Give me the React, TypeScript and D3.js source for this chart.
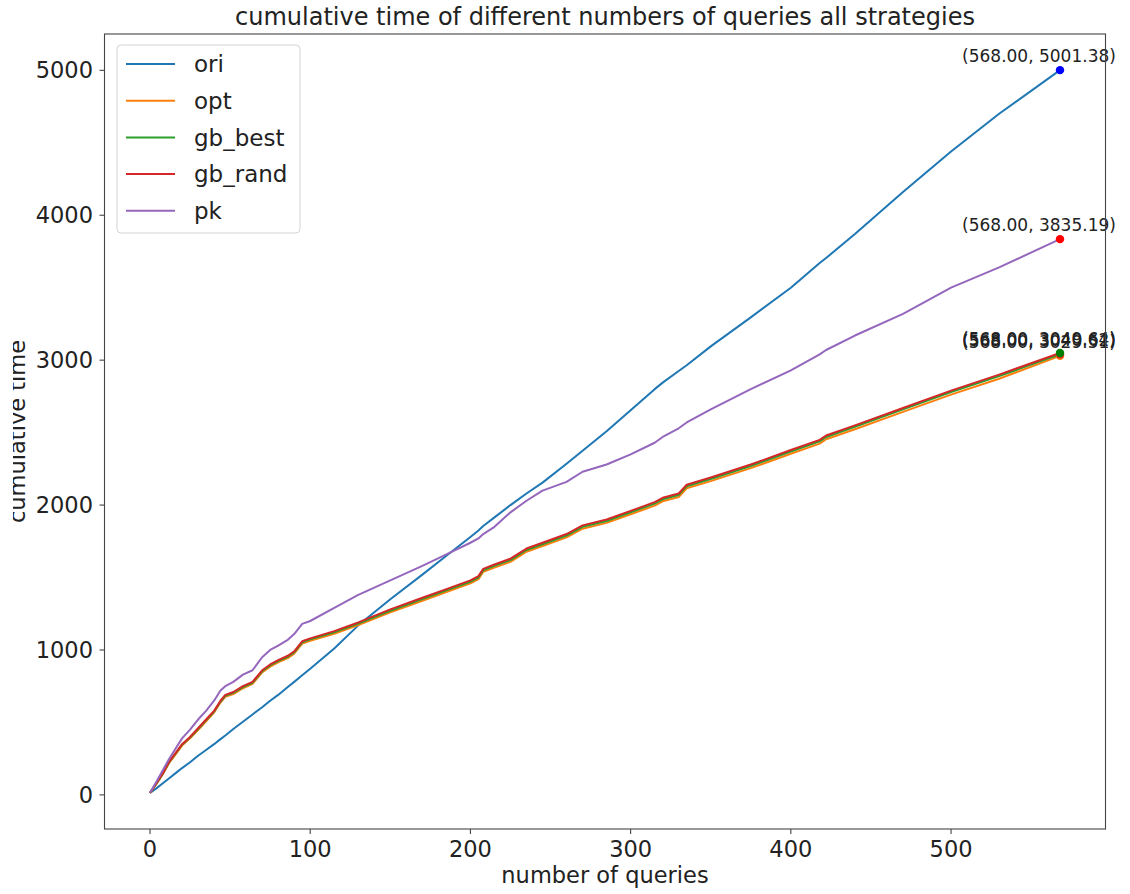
import * as d3 from 'd3';

// sampled query counts (x) shared by every series
const queries = [0, 4, 8, 12, 16, 20, 25, 30, 35, 40, 44, 47, 52, 58, 64, 70, 75, 80, 86, 90, 95, 100, 115, 130, 150, 170, 185, 200, 205, 208, 215, 225, 235, 245, 260, 270, 285, 300, 315, 320, 330, 335, 350, 375, 400, 418, 422, 440, 470, 500, 530, 568];

const ori = [14, 45, 80, 115, 150, 185, 225, 270, 310, 350, 385, 410, 455, 505, 555, 605, 650, 690, 745, 780, 825, 870, 1010, 1170, 1350, 1520, 1650, 1780, 1825, 1855, 1915, 2000, 2080, 2155, 2285, 2375, 2510, 2655, 2800, 2845, 2925, 2965, 3095, 3295, 3500, 3670, 3705, 3870, 4160, 4440, 4700, 5001.38];
const gbRand = [14, 80, 150, 230, 290, 350, 400, 460, 520, 580, 650, 690, 710, 750, 780, 860, 900, 930, 960, 990, 1060, 1080, 1130, 1190, 1280, 1360, 1420, 1480, 1510, 1560, 1590, 1630, 1700, 1740, 1800, 1860, 1900, 1960, 2020, 2050, 2080, 2140, 2190, 2280, 2380, 2450, 2480, 2550, 2670, 2790, 2900, 3049.64];
const gbBest = [14, 78, 147, 226, 286, 346, 396, 455, 515, 575, 644, 684, 704, 744, 774, 853, 893, 923, 953, 983, 1053, 1073, 1122, 1182, 1271, 1351, 1411, 1471, 1500, 1550, 1580, 1620, 1690, 1730, 1790, 1850, 1890, 1950, 2010, 2040, 2070, 2130, 2180, 2270, 2370, 2440, 2470, 2540, 2660, 2780, 2890, 3040.62];
const opt = [14, 75, 143, 221, 280, 340, 390, 448, 508, 568, 637, 677, 696, 736, 766, 845, 885, 915, 944, 974, 1044, 1064, 1112, 1172, 1260, 1340, 1400, 1460, 1489, 1539, 1568, 1608, 1678, 1718, 1777, 1837, 1877, 1937, 1996, 2026, 2056, 2116, 2165, 2255, 2354, 2424, 2454, 2523, 2643, 2762, 2872, 3029.51];
const pk = [14, 90, 170, 250, 320, 390, 450, 520, 580, 650, 720, 750, 780, 830, 860, 950, 1000, 1030, 1070, 1110, 1180, 1200, 1290, 1380, 1480, 1580, 1660, 1740, 1770, 1800, 1850, 1950, 2030, 2100, 2160, 2230, 2280, 2350, 2430, 2470, 2530, 2570, 2660, 2800, 2930, 3040, 3070, 3170, 3320, 3500, 3640, 3835.19];

const seriesNames = ['ori', 'opt', 'gb_best', 'gb_rand', 'pk'];
const seriesValues = [ori, opt, gbBest, gbRand, pk];
const seriesColors = ['#1f77b4', '#ff7f0e', '#2ca02c', '#d62728', '#9467bd'];
// colour of the end-point marker for each series
const endColors = ['#0000ff', '#ff7f0e', '#d62728', '#008000', '#ff0000'];

const xTicks = [0, 100, 200, 300, 400, 500];
const yTicks = [0, 1000, 2000, 3000, 4000, 5000];

const W = 1130;
const H = 894;
const FONT = 'DejaVu Sans, sans-serif';

export default function App() {
  const left = 104.5, right = 1105.5, top = 34, bottom = 829;

  // matplotlib style 5% padding
  const xMin = 0, xMax = 568;
  const xPad = (xMax - xMin) * 0.05;
  const x = d3.scaleLinear().domain([xMin - xPad, xMax + xPad]).range([left, right]);

  const allY = seriesValues.flat();
  const yMin = d3.min(allY) as number;
  const yMax = d3.max(allY) as number;
  const yPad = (yMax - yMin) * 0.05;
  const y = d3.scaleLinear().domain([yMin - yPad, yMax + yPad]).range([bottom, top]);

  const line = d3.line<number>()
    .x((_, i) => x(queries[i]))
    .y(d => y(d));

  const lastQ = queries[queries.length - 1];

  return (
    <svg width={W} height={H} style={{ position: 'absolute', left: 0, top: 0, background: '#fff' }} fontFamily={FONT}>
      <defs>
        <clipPath id="ylab-clip">
          <rect x={13} y={0} width={100} height={H} />
        </clipPath>
      </defs>
      <rect width={W} height={H} fill="#fff" />

      {/* title */}
      <text x={(left + right) / 2} y={25} textAnchor="middle" fontSize={24} fill="#222">
        cumulative time of different numbers of queries all strategies
      </text>

      {/* lines */}
      {seriesValues.map((vals, i) => (
        <path key={seriesNames[i]} d={line(vals) || ''} fill="none" stroke={seriesColors[i]} strokeWidth={2} strokeLinejoin="round" />
      ))}

      {/* end points and their labels */}
      {seriesValues.map((vals, i) => {
        const v = vals[vals.length - 1];
        return (
          <g key={'end-' + i}>
            <circle cx={x(lastQ)} cy={y(v)} r={4.2} fill={endColors[i]} />
            <text x={x(lastQ) - 21} y={y(v) - 8} textAnchor="middle" fontSize={17} fill="#222">
              {`(${lastQ.toFixed(2)}, ${v.toFixed(2)})`}
            </text>
          </g>
        );
      })}

      {/* frame */}
      <rect x={left} y={top} width={right - left} height={bottom - top} fill="none" stroke="#444" strokeWidth={1.1} />

      {/* x axis */}
      {xTicks.map(t => (
        <g key={'x' + t}>
          <line x1={x(t)} x2={x(t)} y1={bottom} y2={bottom + 5} stroke="#444" strokeWidth={1.1} />
          <text x={x(t)} y={857} textAnchor="middle" fontSize={22.5} fill="#222">{t}</text>
        </g>
      ))}
      <text x={(left + right) / 2} y={883} textAnchor="middle" fontSize={22.5} fill="#222">number of queries</text>

      {/* y axis */}
      {yTicks.map(t => (
        <g key={'y' + t}>
          <line x1={left - 5} x2={left} y1={y(t)} y2={y(t)} stroke="#444" strokeWidth={1.1} />
          <text x={93} y={y(t)} dy="0.36em" textAnchor="end" fontSize={22.5} fill="#222">{t}</text>
        </g>
      ))}
      <g clipPath="url(#ylab-clip)">
        <text transform={`translate(25,${(top + bottom) / 2}) rotate(-90)`} textAnchor="middle" fontSize={22.5} fill="#222">
          cumulative time
        </text>
      </g>

      {/* legend */}
      <rect x={117} y={45} width={183} height={188} rx={4} fill="#fff" fillOpacity={0.8} stroke="#d4d4d4" strokeWidth={1} />
      {seriesNames.map((n, i) => (
        <g key={'leg' + n} transform={`translate(0,${64 + i * 36.7})`}>
          <line x1={126} x2={175} y1={0} y2={0} stroke={seriesColors[i]} strokeWidth={2} />
          <text x={194} y={0} dy="0.36em" fontSize={23} fill="#222">{n}</text>
        </g>
      ))}
    </svg>
  );
}
